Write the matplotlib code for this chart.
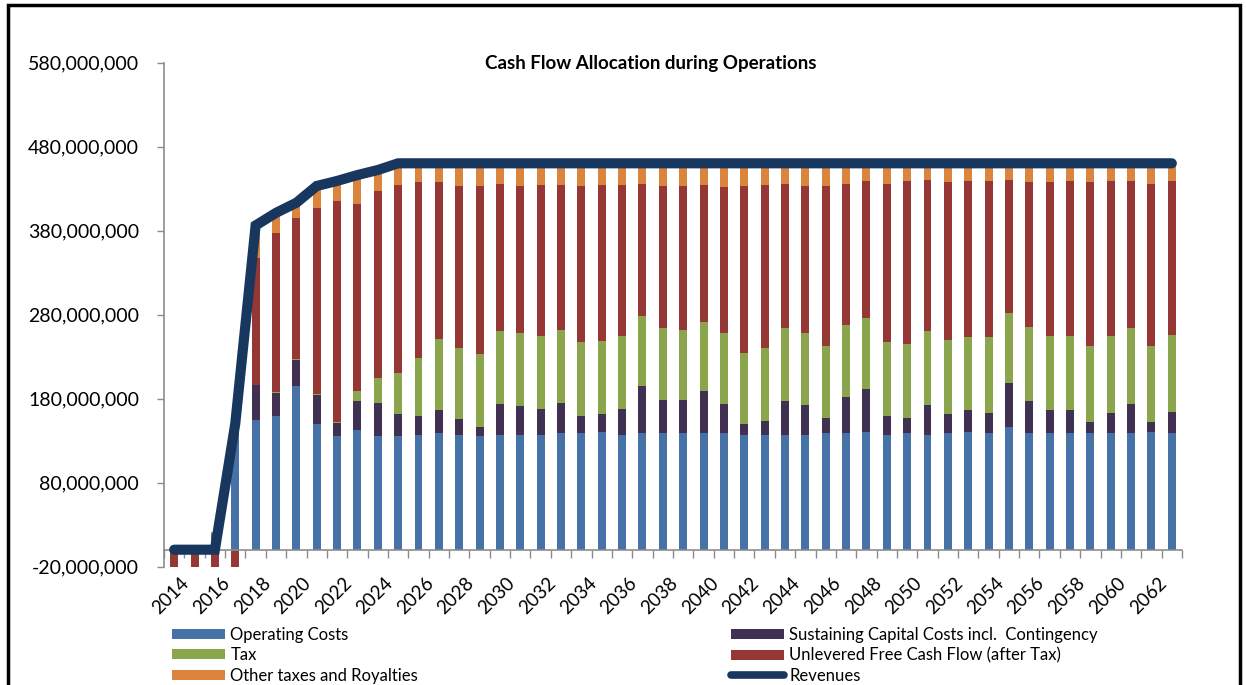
import numpy as np
import matplotlib
matplotlib.use("Agg")
import matplotlib.pyplot as plt
from matplotlib.lines import Line2D
from matplotlib.patches import Patch, Rectangle
from matplotlib.ticker import FuncFormatter, FixedLocator

plt.rcParams["font.family"] = ["Lato", "DejaVu Sans"]

# ---- data (millions) ----
years = list(range(2014, 2064))

operating_costs = [0, 0, 19, 146, 154, 159.7, 194.8, 149.2, 135.3, 142.0,
                   135.3, 135.3, 136.9, 138.5, 136.9, 135.3, 136.9, 136.9, 136.9, 138.5,
                   138.5, 140.1, 136.9, 138.5, 138.5, 138.5, 138.5, 138.5, 136.9, 136.9,
                   136.9, 136.9, 138.5, 138.5, 140.1, 136.9, 138.5, 136.9, 138.5, 140.1,
                   138.5, 146.0, 138.5, 138.5, 138.5, 138.5, 138.5, 138.5, 140.1, 138.5]

sustaining_capital = [0, 0, 0, 0, 42.6, 26.5, 30.6, 34.5, 15.5, 34.6,
                      39.7, 26.2, 22.6, 27.4, 18.3, 11.1, 36.9, 33.7, 30.6, 36.5,
                      21.0, 21.0, 30.6, 56.3, 39.7, 39.7, 50.4, 35.3, 12.3, 16.7,
                      39.7, 35.3, 18.6, 42.8, 51.6, 22.6, 18.6, 35.3, 23.0, 25.8,
                      24.6, 52.0, 38.1, 27.4, 27.4, 13.5, 24.6, 35.3, 11.9, 25.8]

tax = [0, 0, 0, 0, 0, 1.2, 1.6, 2.0, 1.2, 12.3,
       29.0, 48.8, 69.1, 85.3, 85.3, 86.5, 86.5, 86.9, 86.9, 86.9,
       87.3, 87.3, 86.9, 83.8, 85.3, 83.7, 82.1, 83.7, 85.3, 86.9,
       86.9, 85.3, 85.0, 86.6, 84.1, 87.3, 88.1, 88.1, 88.5, 86.9,
       89.7, 83.7, 88.5, 88.5, 88.5, 90.1, 91.3, 89.7, 90.1, 91.7]

free_cash_flow = [-22, -22, -22, -22, 151.0, 190.2, 167.8, 221.4, 262.7, 223.0,
                  223.0, 224.2, 208.7, 186.1, 192.4, 200.0, 175.4, 175.4, 180.1, 172.6,
                  186.1, 186.1, 180.1, 157.1, 169.4, 171.0, 163.5, 173.8, 198.4, 194.0,
                  172.2, 175.4, 190.8, 167.8, 163.1, 188.9, 193.7, 180.2, 187.3, 186.1,
                  186.1, 158.8, 172.2, 182.9, 184.5, 195.2, 184.5, 175.4, 193.6, 182.9]

other_taxes_royalties = [0, 0, 2.0, 10.5, 38.4, 23.6, 18.2, 25.9, 24.3, 34.1,
                         25.0, 25.5, 22.7, 22.7, 27.1, 27.1, 24.3, 27.1, 25.5, 25.5,
                         27.1, 25.5, 25.5, 24.3, 27.1, 27.1, 25.5, 28.7, 27.1, 25.5,
                         24.3, 27.1, 27.1, 24.3, 21.1, 24.3, 21.1, 19.5, 22.7, 21.1,
                         21.1, 19.5, 22.7, 22.7, 21.1, 22.7, 21.1, 21.1, 24.3, 21.1]

revenues = [0, 0, 0, 150, 386, 401, 413, 433, 439, 446,
            452, 460, 460, 460, 460, 460, 460, 460, 460, 460,
            460, 460, 460, 460, 460, 460, 460, 460, 460, 460,
            460, 460, 460, 460, 460, 460, 460, 460, 460, 460,
            460, 460, 460, 460, 460, 460, 460, 460, 460, 460]

series_labels = ["Operating Costs",
                 "Sustaining Capital Costs incl.  Contingency",
                 "Tax",
                 "Unlevered Free Cash Flow (after Tax)",
                 "Other taxes and Royalties"]
revenue_label = "Revenues"

y_ticks = [-20, 80, 180, 280, 380, 480, 580]

# ---- styling ----
colors = ["#4672A8", "#403152", "#8BA54D", "#953735", "#DC843E"]
line_color = "#17375E"
axis_gray = "#8C8C8C"

fig = plt.figure(figsize=(12.46, 6.85), dpi=100)
ax = fig.add_axes([164 / 1246, 1 - 566.5 / 685, 1018 / 1246, 504 / 685])

x = np.arange(len(years))
scale = 1e6
stack = [operating_costs, sustaining_capital, tax, free_cash_flow, other_taxes_royalties]

pos_base = np.zeros(len(years))
neg_base = np.zeros(len(years))
for vals, col in zip(stack, colors):
    v = np.asarray(vals, dtype=float) * scale
    base = np.where(v >= 0, pos_base, neg_base)
    ax.bar(x, v, bottom=base, width=0.39, color=col, edgecolor="none", zorder=2)
    pos_base = pos_base + np.where(v >= 0, v, 0)
    neg_base = neg_base + np.where(v < 0, v, 0)

ax.plot(x, np.asarray(revenues, dtype=float) * scale, color=line_color, lw=7.3,
        solid_capstyle="round", solid_joinstyle="miter", zorder=3)

ax.set_xlim(-0.5, len(years) - 0.5)
ax.set_ylim(y_ticks[0] * scale, y_ticks[-1] * scale)

# y axis
ax.yaxis.set_major_locator(FixedLocator([t * scale for t in y_ticks]))
ax.yaxis.set_major_formatter(FuncFormatter(lambda v, p: f"{v:,.0f}"))
ax.tick_params(axis="y", direction="out", length=5, width=1, color=axis_gray,
               labelsize=14, pad=13)

# x axis on the zero line, tick marks between categories
ax.spines["bottom"].set_position(("data", 0))
ax.spines["bottom"].set_color(axis_gray)
ax.spines["left"].set_color(axis_gray)
ax.spines["bottom"].set_linewidth(1.2)
ax.spines["left"].set_linewidth(1.2)
ax.spines["top"].set_visible(False)
ax.spines["right"].set_visible(False)
ax.set_xticks(np.arange(-0.5, len(years)), minor=False)
ax.set_xticklabels([])
ax.tick_params(axis="x", direction="out", length=6, width=1, color=axis_gray)

# year labels below the plot area
for i, yr in enumerate(years):
    if i % 2 == 0:
        ax.text(i + 0.3, -0.016, str(yr), transform=ax.get_xaxis_transform(),
                rotation=45, ha="right", va="top", rotation_mode="anchor",
                fontsize=13.5, clip_on=False)

fig.text(651 / 1246, 1 - 63 / 685, "Cash Flow Allocation during Operations",
         ha="center", va="center", fontsize=13.5, fontweight="bold")

# legends
def patch(c):
    return Patch(facecolor=c, edgecolor="none")

rev_handle = Line2D([], [], color=line_color, lw=5.5, solid_capstyle="round")
leg_kw = dict(frameon=False, fontsize=12, handlelength=3.2, handleheight=0.55,
              handletextpad=0.3, labelspacing=0.26, borderaxespad=0, borderpad=0,
              loc="upper left")
leg1 = fig.legend([patch(colors[0]), patch(colors[2]), patch(colors[4])],
                  [series_labels[0], series_labels[2], series_labels[4]],
                  bbox_to_anchor=(172 / 1246, 1 - 627 / 685), **leg_kw)
leg2 = fig.legend([patch(colors[1]), patch(colors[3]), rev_handle],
                  [series_labels[1], series_labels[3], revenue_label],
                  bbox_to_anchor=(731 / 1246, 1 - 627 / 685), **leg_kw)

# chart frame
fig.patches.append(Rectangle((8 / 1246, -0.05), (1240 - 8) / 1246, 1.05 - 5 / 685,
                             transform=fig.transFigure, fill=False,
                             edgecolor="black", lw=2.5))

fig.savefig("out.png", dpi=100)
